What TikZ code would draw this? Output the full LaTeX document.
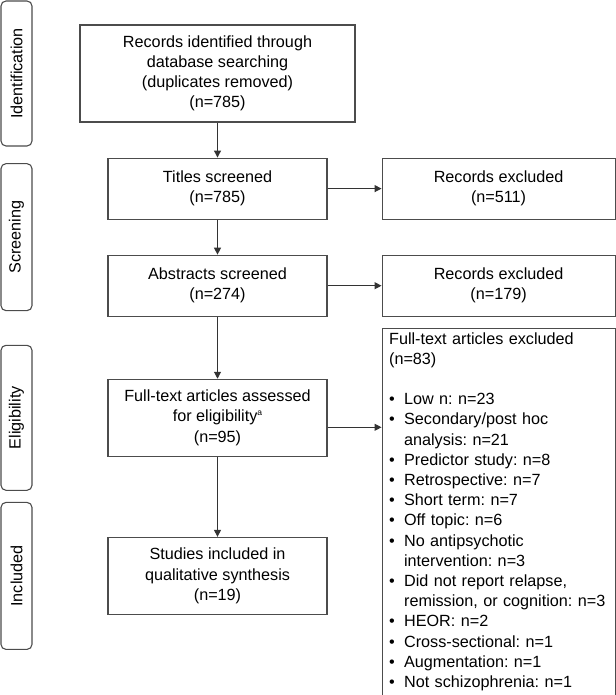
\documentclass[tikz,border=0pt]{standalone}
\usepackage{fontspec}
\setmainfont{Liberation Sans}
\usetikzlibrary{arrows.meta, positioning, calc}

\newcommand{\bul}{\makebox[15pt][l]{\textbullet}}
\newcommand{\bulgap}{\hspace*{15pt}}

\begin{document}
\frenchspacing
\begin{tikzpicture}[
  node distance=35pt,
  every node/.style={font=\fontsize{16.2pt}{20.2pt}\selectfont},
  box/.style={draw=black!70, line width=1.1pt, align=center, inner sep=3pt, minimum width=219pt, minimum height=61pt},
  listbox/.style={box, align=left, minimum width=233pt, text width=219pt, inner xsep=7pt},
  phase/.style={draw=black!70, line width=1.1pt, rounded corners=5pt, rotate=90, minimum width=145pt, minimum height=31pt, inner sep=0pt},
  arrow/.style={-{Triangle[length=7pt, width=7pt]}, line width=1.1pt, draw=black!80}
]
\useasboundingbox (0,0) rectangle (615pt,-695pt);

% main column
\node[box, minimum width=275pt, minimum height=97pt] (records) at (217.5pt,-73.5pt)
  {Records identified through\\database searching\\(duplicates removed)\\(n=785)};
\node[box, below=of records] (titles) {Titles screened\\(n=785)};
\node[box, below=of titles] (abstracts) {Abstracts screened\\(n=274)};
\node[box, below=62pt of abstracts, minimum height=77pt] (fulltext)
  {Full-text articles assessed\\for eligibility\raisebox{6.5pt}{\fontsize{8.5pt}{8.5pt}\selectfont a}\\(n=95)};
\node[box, below=80pt of fulltext, minimum height=77pt] (studies)
  {Studies included in\\qualitative synthesis\\(n=19)};

% exclusions
\node[box, right=54pt of titles, minimum width=233pt] (excl1) {Records excluded\\(n=511)};
\node[box, right=54pt of abstracts, minimum width=233pt] (excl2) {Records excluded\\(n=179)};
\node[listbox, below=11pt of excl2, minimum height=367pt] (excl3)
  {Full-text articles excluded\\(n=83)\\[20pt]
   \bul Low n: n=23\\
   \bul Secondary/post hoc\\ \bulgap analysis: n=21\\
   \bul Predictor study: n=8\\
   \bul Retrospective: n=7\\
   \bul Short term: n=7\\
   \bul Off topic: n=6\\
   \bul No antipsychotic\\ \bulgap intervention: n=3\\
   \bul Did not report relapse,\\ \bulgap remission, or cognition: n=3\\
   \bul HEOR: n=2\\
   \bul Cross-sectional: n=1\\
   \bul Augmentation: n=1\\
   \bul Not schizophrenia: n=1};

% phases
\coordinate (mid) at ($(titles)!0.5!(abstracts)$);
\node[phase] (ident) at (16.5pt,-73.5pt) {Identification};
\node[phase, minimum width=147pt] (screen) at (ident |- mid) {Screening};
\node[phase] (elig) at (ident |- fulltext) {Eligibility};
\node[phase, minimum width=147pt] (incl) at (ident |- studies) {Included};

\draw[arrow] (records) -- (titles);
\draw[arrow] (titles) -- (abstracts);
\draw[arrow] (abstracts) -- (fulltext);
\draw[arrow] (fulltext) -- (studies);
\draw[arrow] (titles) -- (excl1);
\draw[arrow] (abstracts) -- (excl2);
\draw[arrow] ([yshift=-9.5pt]fulltext.east) -- ([yshift=-9.5pt]fulltext.east -| excl3.west);

\end{tikzpicture}
\end{document}
